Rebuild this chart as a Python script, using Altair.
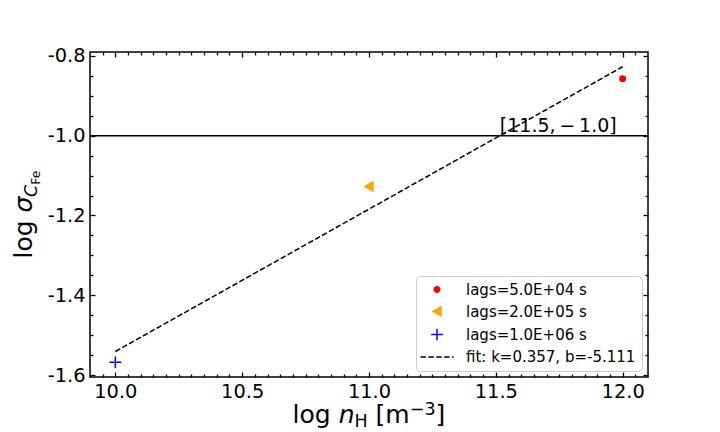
import altair as alt
import pandas as pd

# ---------------- data ----------------
lag_labels = ["lags=5.0E+04 s", "lags=2.0E+05 s", "lags=1.0E+06 s"]
log_nH = [12.0, 11.0, 10.0]
log_sigma = [-0.857, -1.127, -1.568]
point_colors = ["#ff0000", "#ffa500", "#0000ff"]

fit_label = "fit: k=0.357, b=-5.111"
fit_x = [10.0, 12.0]
fit_y = [-1.541, -0.827]

ref_y = [-1.0]
annot_x = [11.5]
annot_y = [-1.0]
annot_text = ["[11.5,\u2009\u2212\u20091.0]"]

x_major = [10.0, 10.5, 11.0, 11.5, 12.0]
y_major = [-1.6, -1.4, -1.2, -1.0, -0.8]
x_minor = [round(9.95 + 0.05 * i, 2) for i in range(43)]
x_minor = [v for v in x_minor if round(v * 2, 6) != round(round(v * 2), 6)]
y_minor = [-1.55, -1.5, -1.45, -1.35, -1.3, -1.25, -1.15, -1.1, -1.05,
           -0.95, -0.9, -0.85]

x_domain = [9.9, 12.1]
y_domain = [-1.605, -0.790]

FONT = "DejaVu Sans"

# ---------------- tables ----------------
pts = pd.DataFrame({"x": log_nH, "y": log_sigma, "label": lag_labels})
fit_df = pd.DataFrame({"x": fit_x, "y": fit_y, "label": [fit_label] * len(fit_x)})
ref_df = pd.DataFrame({"y": ref_y})
ann_df = pd.DataFrame({"x": annot_x, "y": annot_y, "t": annot_text})
one = pd.DataFrame({"k": [0]})

all_labels = lag_labels + [fit_label]

xs = alt.Scale(domain=x_domain, nice=False, zero=False)
ys = alt.Scale(domain=y_domain, nice=False, zero=False)

fill_scale = alt.Scale(domain=all_labels,
                       range=[point_colors[0], point_colors[1], "transparent", "transparent"])
stroke_scale = alt.Scale(domain=all_labels,
                         range=[point_colors[0], point_colors[1], point_colors[2], "#000000"])
shape_scale = alt.Scale(domain=all_labels,
                        range=["circle", "triangle-left", "M-1,0H1M0,-1V1", "M-2.4,0H2.4"])
size_scale = alt.Scale(domain=all_labels, range=[30, 190, 110, 196])
dash_scale = alt.Scale(domain=all_labels, range=[[1, 0], [1, 0], [1, 0], [5.5, 2.4]])

leg = alt.Legend(title=None)

# ---------------- layers ----------------
rule = alt.Chart(ref_df).mark_rule(color="black", strokeWidth=1.5).encode(
    y=alt.Y("y:Q", scale=ys, axis=None)
)

fit_line = alt.Chart(fit_df).mark_line(strokeWidth=1.5).encode(
    x=alt.X("x:Q", scale=xs, axis=None),
    y=alt.Y("y:Q", scale=ys, axis=None),
    stroke=alt.Stroke("label:N", scale=stroke_scale, legend=leg),
    strokeDash=alt.StrokeDash("label:N", scale=dash_scale, legend=leg),
)

points = alt.Chart(pts).mark_point(opacity=1, strokeWidth=1.5).encode(
    x=alt.X("x:Q", scale=xs,
            axis=alt.Axis(orient="bottom", values=x_major, format=".1f", ticks=False,
                          tickSize=0, domain=False, grid=False, labelPadding=5,
                          title=None, labelFlush=False)),
    y=alt.Y("y:Q", scale=ys,
            axis=alt.Axis(orient="left", values=y_major, ticks=False, tickSize=0,
                          domain=False, grid=False, labelPadding=5, title=None,
                          labelFlush=False,
                          labelExpr="replace(format(datum.value, '.1f'), '\u2212', '-')")),
    fill=alt.Fill("label:N", scale=fill_scale, legend=leg),
    stroke=alt.Stroke("label:N", scale=stroke_scale, legend=leg),
    shape=alt.Shape("label:N", scale=shape_scale, legend=leg),
    size=alt.Size("label:N", scale=size_scale, legend=leg),
)

annot = alt.Chart(ann_df).mark_text(
    font=FONT, fontSize=19, align="left", baseline="alphabetic", dx=4, dy=-4, color="black"
).encode(
    x=alt.X("x:Q", scale=xs, axis=None),
    y=alt.Y("y:Q", scale=ys, axis=None),
    text="t:N",
)


def tick_layer(ox, oy, xv, yv, size):
    return alt.Chart(fit_df).mark_point(opacity=0).encode(
        x=alt.X("x:Q", scale=xs,
                axis=alt.Axis(orient=ox, values=xv, ticks=True, tickSize=size, offset=-size,
                              labels=False, domain=False, grid=False, title=None,
                              tickColor="black", tickWidth=1.3)),
        y=alt.Y("y:Q", scale=ys,
                axis=alt.Axis(orient=oy, values=yv, ticks=True, tickSize=size, offset=-size,
                              labels=False, domain=False, grid=False, title=None,
                              tickColor="black", tickWidth=1.3)),
    )


ticks = [
    tick_layer("bottom", "left", x_major, y_major, 5),
    tick_layer("bottom", "left", x_minor, y_minor, 3),
    tick_layer("top", "right", x_major, y_major, 5),
    tick_layer("top", "right", x_minor, y_minor, 3),
]


def label_piece(text, x, y, size, italic=False, angle=0, dy=0):
    kw = dict(text=text, font=FONT, fontSize=size, align="left", baseline="alphabetic",
              color="black", dy=dy)
    if italic:
        kw["fontStyle"] = "italic"
    if angle:
        kw["angle"] = angle
    return alt.Chart(one).mark_text(**kw).encode(x=alt.value(x), y=alt.value(y))


# x title: log n_H [m^-3]
xt_y = 371
x_title = [
    label_piece("log", 202.6, xt_y, 25),
    label_piece("n", 248.7, xt_y, 25, italic=True),
    label_piece("H", 264.5, xt_y, 17.5, dy=4),
    label_piece("[m", 285.6, xt_y, 25),
    label_piece("\u22123", 319.8, xt_y, 17.5, dy=-8),
    label_piece("]", 345.6, xt_y, 25),
]

# y title: log sigma_{C_Fe}
y_title = [
    label_piece("log", -58, 206.5, 25, angle=270),
    label_piece("\u03c3", -58, 160.4, 25, italic=True, angle=270),
    label_piece("C", -53, 144.9, 17.5, italic=True, angle=270),
    label_piece("Fe", -50, 132.7, 12.25, angle=270),
]

chart = alt.layer(
    rule, fit_line, points, annot, *ticks, *x_title, *y_title
).resolve_axis(
    x="independent", y="independent"
).properties(
    width=558,
    height=325,
    autosize=alt.AutoSizeParams(type="none"),
    padding={"left": 82, "top": 44, "right": 40, "bottom": 55},
    background="white",
).configure_view(
    stroke="black", strokeWidth=1.5
).configure_axis(
    labelFont=FONT, labelFontSize=19.4, labelColor="black", tickColor="black"
).configure_legend(
    orient="bottom-right", offset=6, padding=6, symbolOffset=7, labelOffset=21,
    rowPadding=5, labelFont=FONT, labelFontSize=15, labelColor="black", labelLimit=400,
    fillColor="white", strokeColor="#cccccc", cornerRadius=4, symbolStrokeWidth=1.5,
)

chart.save("out.html", embed_options={"renderer": "svg", "actions": False})
